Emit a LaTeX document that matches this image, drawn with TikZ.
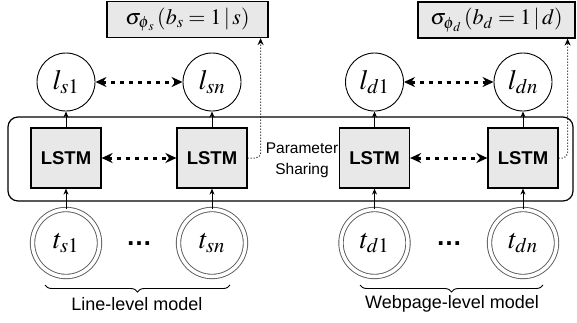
\documentclass[tikz,border=0pt]{standalone}
\usepackage{mathptmx}
\usepackage[no-math]{fontspec}
\setsansfont{Liberation Sans}
\usetikzlibrary{arrows.meta,decorations.pathreplacing}

\tikzset{
  lstmbox/.style={draw,line width=1.2pt,fill=gray!18,minimum width=70pt,minimum height=60pt,
    font=\sffamily\bfseries\fontsize{18.5}{18.5}\selectfont},
  latent/.style={circle,draw,line width=0.9pt,minimum size=58pt,inner sep=0pt,
    font=\fontsize{28}{28}\selectfont},
  token/.style={circle,draw=gray!70!black,double,double distance=3.5pt,line width=0.9pt,
    minimum size=67pt,inner sep=0pt,font=\fontsize{28}{28}\selectfont},
  outbox/.style={draw,line width=1.2pt,fill=gray!18,minimum height=36pt,
    font=\fontsize{22}{22}\selectfont},
  up/.style={-{Stealth[length=6pt,width=5pt]},line width=1pt},
  seq/.style={{Stealth[length=11pt,width=10pt]}-{Stealth[length=11pt,width=10pt]},
    line width=3pt,dash pattern=on 4pt off 5pt},
  share/.style={dotted,line width=1pt,rounded corners=5pt,-{Stealth[length=7pt,width=6pt]}},
  label/.style={font=\sffamily\fontsize{18}{18}\selectfont}
}

\begin{document}
\begin{tikzpicture}[x=1pt,y=-1pt]
\useasboundingbox (0,0) rectangle (577,322);

% shared lstm block
\draw[line width=1.2pt,rounded corners=10pt] (8,117) rectangle (573,201);

\node[lstmbox] (lstm1) at (66,158) {LSTM};
\node[lstmbox] (lstm2) at (212,158) {LSTM};
\node[lstmbox] (lstm3) at (374.5,158) {LSTM};
\node[lstmbox] (lstm4) at (523,158) {LSTM};

\node[latent] (ls1) at (66,82) {$l_{s1}$};
\node[latent] (lsn) at (212,82) {$l_{sn}$};
\node[latent] (ld1) at (374.5,82) {$l_{d1}$};
\node[latent] (ldn) at (523,82) {$l_{dn}$};

\node[token] (ts1) at (66,243) {$t_{s1}$};
\node[token] (tsn) at (212,243) {$t_{sn}$};
\node[token] (td1) at (374.5,243) {$t_{d1}$};
\node[token] (tdn) at (523,243) {$t_{dn}$};

\node[font=\sffamily\bfseries\fontsize{26}{26}\selectfont] (dots1) at (139,244) {\dots};
\node[font=\sffamily\bfseries\fontsize{26}{26}\selectfont] (dots2) at (449,244) {\dots};

\node[outbox,minimum width=161pt] (outs) at (187.5,19.5) {$\sigma_{\phi_{\,s}}\,(b_s = 1\,|\,s)$};
\node[outbox,minimum width=157pt] (outd) at (496.5,20) {$\sigma_{\phi_{\,d}}\,(b_d = 1\,|\,d)$};

\node[font=\sffamily\fontsize{15.5}{21}\selectfont,align=center] (param) at (302,160) {Parameter\\Sharing};

\foreach \lo/\hi in {ts1/lstm1,tsn/lstm2,td1/lstm3,tdn/lstm4,lstm1/ls1,lstm2/lsn,lstm3/ld1,lstm4/ldn}
  \draw[up] (\lo) -- (\hi);

\draw[seq] (ls1) -- (lsn);
\draw[seq] (ld1) -- (ldn);
\draw[seq] (lstm1) -- (lstm2);
\draw[seq] (lstm3) -- (lstm4);

\draw[share] (lstm2.east) -| ([xshift=-8pt]outs.south east);
\draw[share] (lstm4.east) -| ([xshift=-8pt]outd.south east);

% braces
\draw[line width=0.9pt,decorate,decoration={brace,mirror,amplitude=7pt}] (45,285) -- (230,285);
\draw[line width=0.9pt,decorate,decoration={brace,mirror,amplitude=7pt}] (360,285) -- (543,285);
\node[label] (linelab) at (137,304) {Line-level model};
\node[label] (weblab) at (452,304) {Webpage-level model};
\end{tikzpicture}
\end{document}
